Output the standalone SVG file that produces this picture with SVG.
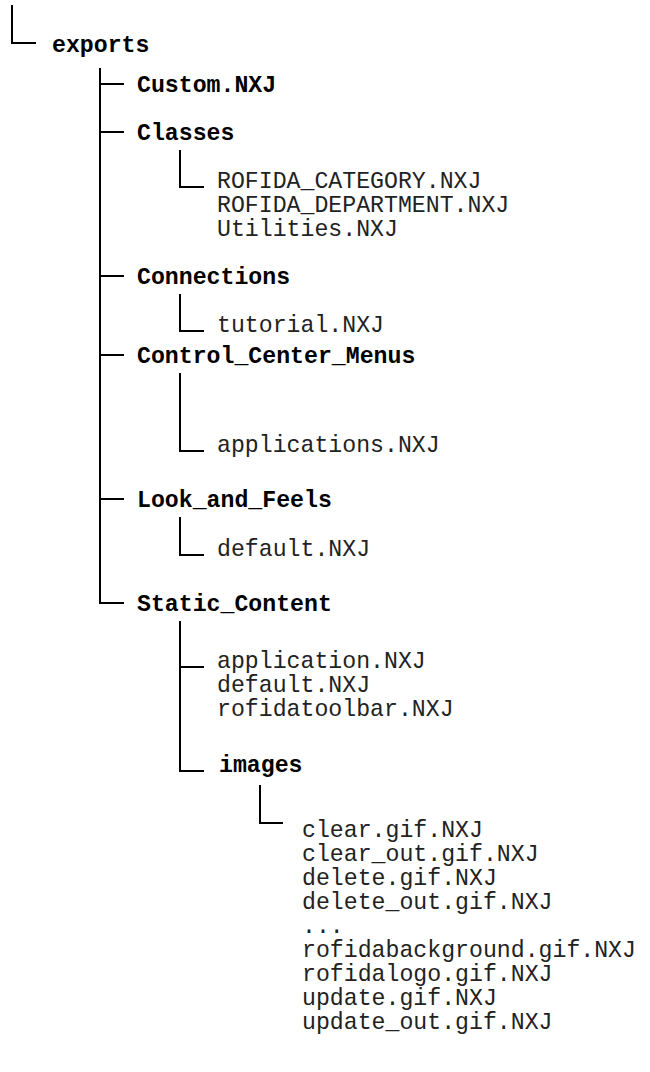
<svg xmlns="http://www.w3.org/2000/svg" width="650" height="1072" viewBox="0 0 650 1072">
<style>
text{font-family:"Liberation Mono","Courier New",monospace;font-size:23.2px;fill:#222}
.b{font-weight:bold;fill:#000}
.c{fill:none;stroke:#000;stroke-width:2}
</style>
<rect width="650" height="1072" fill="#fff"/>
<g id="connectors">
<path class="c" d="M12,5V43H36"/>
<path class="c" d="M100,68V603H124M100,84H124M100,132H124M100,276H124M100,355H124M100,499H124"/>
<path class="c" d="M180,150V187H204"/>
<path class="c" d="M180,294V331H204"/>
<path class="c" d="M180,373V451H204"/>
<path class="c" d="M180,517V555H204"/>
<path class="c" d="M180,621V771H204M180,667H204"/>
<path class="c" d="M260,785V823H283"/>
</g>
<g id="exports"><text class="b" x="52" y="52">exports</text></g>
<g id="custom"><text class="b" x="137" y="92">Custom.NXJ</text></g>
<g id="classes"><text class="b" x="137" y="140">Classes</text></g>
<g id="classes-files"><text x="217" y="188">ROFIDA_CATEGORY.NXJ</text><text x="217" y="212">ROFIDA_DEPARTMENT.NXJ</text><text x="217" y="236">Utilities.NXJ</text></g>
<g id="connections"><text class="b" x="137" y="284">Connections</text></g>
<g id="connections-files"><text x="217" y="332">tutorial.NXJ</text></g>
<g id="ccm"><text class="b" x="137" y="363">Control_Center_Menus</text></g>
<g id="ccm-files"><text x="217" y="452">applications.NXJ</text></g>
<g id="laf"><text class="b" x="137" y="507">Look_and_Feels</text></g>
<g id="laf-files"><text x="217" y="556">default.NXJ</text></g>
<g id="static"><text class="b" x="137" y="611">Static_Content</text></g>
<g id="static-files"><text x="217" y="668">application.NXJ</text><text x="217" y="692">default.NXJ</text><text x="217" y="716">rofidatoolbar.NXJ</text></g>
<g id="images"><text class="b" x="219" y="772">images</text></g>
<g id="images-files"><text x="302" y="837">clear.gif.NXJ</text><text x="302" y="861">clear_out.gif.NXJ</text><text x="302" y="885">delete.gif.NXJ</text><text x="302" y="909">delete_out.gif.NXJ</text><text x="302" y="933">...</text><text x="302" y="957">rofidabackground.gif.NXJ</text><text x="302" y="981">rofidalogo.gif.NXJ</text><text x="302" y="1005">update.gif.NXJ</text><text x="302" y="1029">update_out.gif.NXJ</text></g>
</svg>
